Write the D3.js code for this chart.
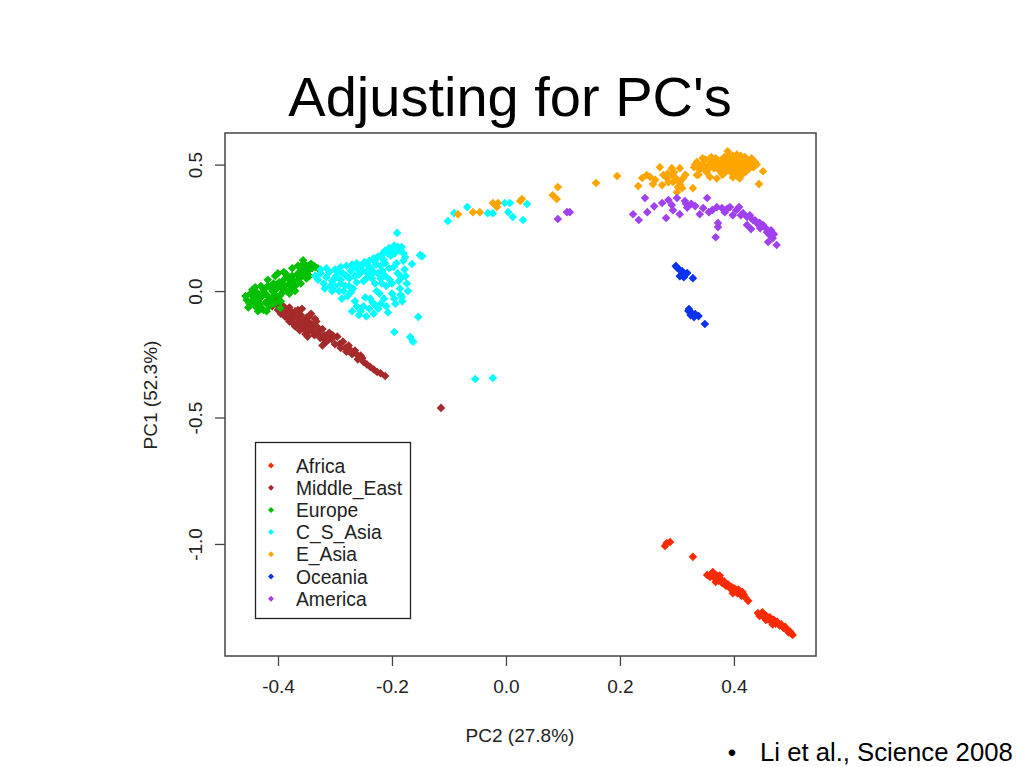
<!DOCTYPE html>
<html lang="en">
<head>
    <meta charset="UTF-8">
    <title>Adjusting for PC's</title>
    <script src="https://d3js.org/d3.v7.min.js"></script>
    <style>
        body { margin: 0; background: #fff; }
        svg { display: block; font-family: "Liberation Sans", Arial, sans-serif; }
        .tick text { font-size: 19px; fill: #222; }
        .tick line { stroke: #444; stroke-width: 1.3px; }
    </style>
</head>
<body>
<svg id="chart" width="1023" height="767"></svg>
<script>
    // populations, in legend order
    const populations = ["Africa", "Middle_East", "Europe", "C_S_Asia", "E_Asia", "Oceania", "America"];
    const popColors = ["#ff2a00", "#a52a2a", "#00c000", "#00ffff", "#ffa500", "#0a33ee", "#a040f0"];

    const xTicks = [-0.4, -0.2, 0.0, 0.2, 0.4];
    const yTicks = [-1.0, -0.5, 0.0, 0.5];

    // [PC2, PC1]
    const africa = [
        [0.279,-1.008],[0.282,-0.996],[0.288,-0.992],[0.328,-1.051],
        [0.353,-1.123],[0.358,-1.130],[0.363,-1.111],[0.366,-1.135],[0.370,-1.125],[0.373,-1.145],
        [0.377,-1.140],[0.380,-1.155],[0.383,-1.148],[0.386,-1.165],[0.390,-1.160],[0.393,-1.175],
        [0.396,-1.170],[0.400,-1.185],[0.403,-1.180],[0.406,-1.195],[0.410,-1.192],[0.413,-1.205],
        [0.417,-1.200],[0.420,-1.212],[0.425,-1.225],[0.375,-1.125],[0.368,-1.150],[0.398,-1.195],
        [0.408,-1.180],[0.360,-1.120],[0.372,-1.135],[0.385,-1.160],[0.400,-1.175],[0.415,-1.190],
        [0.378,-1.150],[0.392,-1.168],
        [0.442,-1.273],[0.447,-1.280],[0.450,-1.270],[0.453,-1.290],[0.457,-1.285],[0.460,-1.298],
        [0.463,-1.290],[0.466,-1.305],[0.470,-1.300],[0.473,-1.315],[0.476,-1.308],[0.480,-1.322],
        [0.483,-1.318],[0.487,-1.332],[0.490,-1.328],[0.494,-1.342],[0.498,-1.345],[0.503,-1.360],
        [0.500,-1.352],[0.456,-1.300],[0.468,-1.318],[0.445,-1.285],[0.458,-1.295],[0.472,-1.310],
        [0.485,-1.325],[0.496,-1.350]
    ];
    const middleEast = [
        [-0.415,-0.045],[-0.410,-0.060],[-0.405,-0.050],[-0.400,-0.075],[-0.398,-0.060],[-0.395,-0.090],
        [-0.392,-0.070],[-0.388,-0.100],[-0.385,-0.080],[-0.382,-0.110],[-0.380,-0.065],[-0.377,-0.095],
        [-0.375,-0.125],[-0.372,-0.105],[-0.370,-0.080],[-0.367,-0.130],[-0.365,-0.110],[-0.362,-0.140],
        [-0.360,-0.095],[-0.357,-0.120],[-0.355,-0.150],[-0.352,-0.135],[-0.350,-0.105],[-0.345,-0.160],
        [-0.342,-0.130],[-0.340,-0.145],[-0.336,-0.175],[-0.333,-0.120],[-0.330,-0.160],[-0.326,-0.185],
        [-0.322,-0.150],[-0.318,-0.175],[-0.315,-0.200],[-0.310,-0.165],[-0.306,-0.190],[-0.300,-0.210],
        [-0.296,-0.180],[-0.290,-0.225],[-0.286,-0.200],[-0.280,-0.240],[-0.276,-0.215],[-0.270,-0.250],
        [-0.265,-0.235],[-0.260,-0.270],[-0.255,-0.255],[-0.250,-0.280],[-0.244,-0.290],[-0.238,-0.300],
        [-0.232,-0.310],[-0.226,-0.320],[-0.220,-0.325],[-0.212,-0.336],[-0.322,-0.215],[-0.114,-0.462],
        [-0.405,-0.035],[-0.395,-0.050],[-0.388,-0.065],[-0.378,-0.080],[-0.366,-0.095],[-0.360,-0.115],
        [-0.354,-0.125],[-0.348,-0.120],[-0.344,-0.145],[-0.338,-0.160],[-0.332,-0.140],[-0.328,-0.170],
        [-0.320,-0.190],[-0.312,-0.185],[-0.304,-0.175],[-0.292,-0.210],[-0.282,-0.225],[-0.272,-0.235],
        [-0.262,-0.250],[-0.252,-0.265],[-0.345,-0.100],[-0.335,-0.110],[-0.380,-0.120],[-0.370,-0.140],
        [-0.362,-0.155],[-0.358,-0.070],[-0.352,-0.170],[-0.365,-0.075],[-0.348,-0.180],[-0.342,-0.090]
    ];
    const europe = [
        [-0.455,-0.035],[-0.450,-0.050],[-0.445,-0.020],[-0.440,-0.060],[-0.438,-0.005],[-0.435,-0.040],
        [-0.430,-0.025],[-0.428,-0.070],[-0.425,0.005],[-0.422,-0.045],[-0.420,-0.015],[-0.418,0.020],
        [-0.415,-0.060],[-0.412,-0.030],[-0.410,0.000],[-0.408,0.030],[-0.405,-0.015],[-0.402,0.010],
        [-0.400,-0.040],[-0.398,0.035],[-0.395,0.015],[-0.392,-0.005],[-0.390,0.045],[-0.388,0.020],
        [-0.385,0.000],[-0.382,0.050],[-0.380,0.030],[-0.377,0.010],[-0.375,0.060],[-0.372,0.040],
        [-0.370,0.020],[-0.367,0.065],[-0.365,0.045],[-0.362,0.075],[-0.360,0.055],[-0.357,0.085],
        [-0.355,0.065],[-0.352,0.095],[-0.350,0.075],[-0.347,0.100],[-0.345,0.085],[-0.342,0.108],
        [-0.340,0.090],[-0.337,0.100],[-0.335,0.095],[-0.330,0.090],[-0.356,0.122],
        [-0.448,-0.010],[-0.443,-0.045],[-0.437,-0.030],[-0.432,-0.055],[-0.427,-0.010],[-0.423,0.010],
        [-0.417,-0.040],[-0.413,0.015],[-0.407,-0.050],[-0.403,0.025],[-0.397,-0.020],[-0.393,0.030],
        [-0.396,-0.067],
        [-0.445,0.005],[-0.452,-0.065],[-0.440,0.015],[-0.435,-0.080],[-0.430,0.020],[-0.425,-0.075],
        [-0.418,0.045],[-0.412,-0.050],[-0.405,0.060],[-0.400,0.070],[-0.395,-0.040],[-0.390,0.075],
        [-0.385,0.065],[-0.380,-0.010],[-0.375,0.090],[-0.370,0.000],[-0.365,0.100],[-0.360,0.030],
        [-0.355,0.110],[-0.350,0.050],[-0.345,0.060],[-0.420,-0.080],[-0.433,-0.015],[-0.446,-0.040],
        [-0.457,-0.020]
    ];
    const csAsia = [
        [-0.300,0.085],[-0.290,0.095],[-0.280,0.100],[-0.270,0.105],[-0.262,0.110],[-0.255,0.100],
        [-0.248,0.115],[-0.240,0.120],[-0.232,0.130],[-0.225,0.135],[-0.218,0.145],[-0.212,0.160],
        [-0.205,0.170],[-0.200,0.165],[-0.196,0.180],[-0.190,0.175],[-0.186,0.160],[-0.180,0.150],
        [-0.195,0.150],[-0.208,0.150],[-0.191,0.230],[-0.202,0.140],[-0.215,0.125],
        [-0.335,0.060],[-0.330,0.045],[-0.325,0.070],[-0.320,0.030],[-0.315,0.055],[-0.310,0.075],
        [-0.305,0.040],[-0.300,0.020],[-0.298,0.060],[-0.293,0.000],[-0.290,0.045],[-0.286,0.070],
        [-0.282,0.020],[-0.278,-0.020],[-0.275,0.050],[-0.272,0.080],[-0.268,0.010],[-0.265,-0.040],
        [-0.262,0.035],[-0.258,0.065],[-0.255,0.090],[-0.250,0.040],[-0.250,-0.060],[-0.247,-0.025],
        [-0.240,0.060],[-0.237,0.090],[-0.234,-0.045],[-0.230,0.030],[-0.227,0.000],[-0.224,-0.070],
        [-0.220,0.050],[-0.217,0.080],[-0.214,-0.030],[-0.210,0.020],[-0.207,-0.085],[-0.204,0.045],
        [-0.200,-0.010],[-0.197,0.095],[-0.194,-0.050],[-0.190,0.070],[-0.186,0.010],[-0.182,-0.040],
        [-0.178,0.085],[-0.174,0.030],[-0.270,-0.080],[-0.258,-0.095],[-0.245,-0.100],[-0.232,-0.090],
        [-0.288,-0.030],[-0.305,0.000],[-0.318,0.010],[-0.240,-0.070],[-0.272,-0.005],[-0.220,-0.050],
        [-0.212,0.110],[-0.228,0.105],[-0.245,0.075],
        [-0.325,0.085],[-0.315,0.090],[-0.308,0.020],[-0.295,0.075],[-0.285,0.000],[-0.280,0.060],
        [-0.275,0.020],[-0.268,0.090],[-0.265,0.060],[-0.262,-0.060],[-0.255,-0.080],[-0.242,0.100],
        [-0.238,-0.030],[-0.235,0.050],[-0.228,-0.060],[-0.225,0.070],[-0.222,-0.010],[-0.218,0.030],
        [-0.212,0.060],[-0.210,-0.060],[-0.205,0.090],[-0.200,0.030],[-0.196,-0.030],[-0.192,0.110],
        [-0.188,0.040],[-0.185,-0.015],[-0.180,0.120],[-0.176,0.060],[-0.172,0.000],[-0.290,0.030],
        [-0.300,0.050],[-0.230,0.115],[-0.220,0.100],[-0.252,0.080],[-0.260,0.085],[-0.245,0.050],
        [-0.232,0.075],
        [-0.183,0.174],[-0.177,0.134],[-0.165,0.107],[-0.147,0.138],[-0.151,0.142],[-0.183,0.055],
        [-0.183,-0.024],[-0.154,-0.102],[-0.196,-0.162],[-0.168,-0.182],[-0.163,-0.200],
        [-0.054,-0.348],[-0.023,-0.344],
        [-0.102,0.277],[-0.091,0.308],[-0.068,0.332],[-0.032,0.308],[-0.023,0.308],[0.007,0.348],
        [0.004,0.312],[0.012,0.293],[0.030,0.281],[0.037,0.344],[-0.002,0.348]
    ];
    const eAsia = [
        [-0.084,0.304],[-0.058,0.312],[-0.046,0.312],[-0.023,0.348],[-0.014,0.348],[-0.016,0.332],
        [0.025,0.356],[0.028,0.364],[0.091,0.411],[0.082,0.379],[0.089,0.364],[0.158,0.427],
        [0.195,0.455],
        [0.232,0.415],[0.239,0.447],[0.247,0.459],[0.258,0.423],[0.270,0.490],[0.274,0.419],
        [0.284,0.466],[0.291,0.486],[0.296,0.451],[0.305,0.486],[0.305,0.431],[0.309,0.407],
        [0.302,0.411],[0.311,0.447],[0.282,0.447],[0.253,0.451],[0.328,0.407],[0.335,0.459],
        [0.358,0.451],[0.276,0.459],[0.293,0.431],[0.300,0.391],
        [0.285,0.430],[0.295,0.470],[0.300,0.440],[0.288,0.456],[0.262,0.440],[0.306,0.420],
        [0.315,0.460],
        [0.330,0.490],[0.335,0.510],[0.340,0.480],[0.345,0.500],[0.350,0.520],[0.355,0.495],
        [0.360,0.510],[0.365,0.485],[0.368,0.525],[0.372,0.500],[0.376,0.515],[0.380,0.490],
        [0.383,0.530],[0.386,0.505],[0.389,0.553],[0.392,0.520],[0.395,0.495],[0.398,0.535],
        [0.400,0.475],[0.402,0.510],[0.405,0.540],[0.408,0.490],[0.410,0.520],[0.413,0.465],
        [0.416,0.505],[0.419,0.530],[0.422,0.485],[0.425,0.515],[0.428,0.500],[0.431,0.525],
        [0.434,0.490],[0.437,0.510],[0.440,0.500],[0.403,0.460],[0.395,0.470],[0.385,0.470],
        [0.375,0.475],[0.420,0.470],[0.410,0.445],[0.360,0.530],[0.345,0.525],[0.338,0.460],
        [0.451,0.474],[0.444,0.423],[0.370,0.445],[0.352,0.470],[0.398,0.450],
        [0.332,0.500],[0.342,0.495],[0.348,0.485],[0.358,0.490],[0.362,0.500],[0.370,0.515],
        [0.378,0.505],[0.382,0.520],[0.388,0.490],[0.392,0.540],[0.396,0.510],[0.400,0.525],
        [0.404,0.495],[0.408,0.505],[0.412,0.535],[0.415,0.480],[0.418,0.515],[0.424,0.500],
        [0.427,0.485],[0.430,0.510],[0.433,0.505],[0.436,0.495],[0.412,0.455],[0.390,0.480],
        [0.380,0.460],[0.405,0.480],[0.420,0.495],[0.366,0.505]
    ];
    const oceania = [
        [0.298,0.099],[0.303,0.087],[0.309,0.079],[0.305,0.059],[0.314,0.067],[0.312,0.055],
        [0.328,0.051],[0.318,0.071],[0.300,0.093],
        [0.321,-0.071],[0.326,-0.087],[0.332,-0.091],[0.338,-0.099],[0.349,-0.130],[0.324,-0.095],
        [0.330,-0.103],[0.320,-0.079]
    ];
    const america = [
        [0.091,0.285],[0.107,0.312],[0.112,0.312],
        [0.223,0.304],[0.233,0.281],[0.244,0.368],[0.248,0.312],[0.274,0.348],[0.281,0.289],
        [0.291,0.340],[0.293,0.320],[0.300,0.368],[0.305,0.304],[0.314,0.356],[0.316,0.345],
        [0.332,0.336],[0.340,0.304],[0.346,0.328],[0.353,0.368],[0.356,0.312],[0.370,0.332],
        [0.372,0.269],[0.372,0.253],[0.368,0.213],[0.379,0.328],[0.384,0.312],[0.393,0.332],
        [0.398,0.300],[0.409,0.332],[0.416,0.308],[0.423,0.293],[0.428,0.300],[0.433,0.281],
        [0.423,0.261],[0.440,0.269],[0.446,0.249],[0.451,0.261],[0.458,0.233],[0.463,0.221],
        [0.468,0.209],[0.475,0.182],[0.460,0.194],[0.430,0.245],
        [0.318,0.330],[0.325,0.345],[0.362,0.320],[0.388,0.325],[0.404,0.320],[0.412,0.300],
        [0.437,0.280],[0.445,0.270],[0.455,0.250],[0.465,0.240],[0.470,0.225],[0.260,0.335],
        [0.285,0.360]
    ];
    const popPoints = [africa, middleEast, europe, csAsia, eAsia, oceania, america];

    const svg = d3.select("#chart");
    svg.append("rect").attr("width", 1023).attr("height", 767).attr("fill", "#fff");

    // plot region
    const x = d3.scaleLinear().domain([-0.493, 0.544]).range([225, 816]);
    const y = d3.scaleLinear().domain([-1.443, 0.625]).range([656, 133]);

    // title
    svg.append("text")
        .attr("x", 510).attr("y", 116)
        .attr("text-anchor", "middle")
        .style("font-size", "56px")
        .attr("fill", "#000")
        .text("Adjusting for PC's");

    const diamond = r => `M0,${-r}L${r},0L0,${r}L${-r},0Z`;

    // points
    popPoints.forEach((pts, i) => {
        svg.append("g")
            .selectAll("path")
            .data(pts)
            .join("path")
            .attr("d", diamond(4.3))
            .attr("transform", d => `translate(${x(d[0])},${y(d[1])})`)
            .attr("fill", popColors[i]);
    });

    // axes
    const xAxis = svg.append("g")
        .attr("transform", "translate(0,656)")
        .call(d3.axisBottom(x).tickValues(xTicks).tickFormat(d => d.toFixed(1)).tickSize(10).tickPadding(14));
    xAxis.select(".domain").remove();

    const yAxis = svg.append("g")
        .attr("transform", "translate(225,0)")
        .call(d3.axisLeft(y).tickValues(yTicks).tickFormat(d => d.toFixed(1)).tickSize(10));
    yAxis.select(".domain").remove();
    yAxis.selectAll(".tick text")
        .attr("transform", "rotate(-90)")
        .attr("x", 0).attr("y", -23).attr("dy", 0)
        .attr("text-anchor", "middle");

    // box
    svg.append("rect")
        .attr("x", 225).attr("y", 133)
        .attr("width", 591).attr("height", 523)
        .attr("fill", "none")
        .attr("stroke", "#444")
        .attr("stroke-width", 1.5);

    // axis titles
    svg.append("text")
        .attr("x", 520).attr("y", 742)
        .attr("text-anchor", "middle")
        .style("font-size", "19px").attr("fill", "#222")
        .text("PC2 (27.8%)");

    svg.append("text")
        .attr("transform", "translate(157,395) rotate(-90)")
        .attr("text-anchor", "middle")
        .style("font-size", "19px").attr("fill", "#222")
        .text("PC1 (52.3%)");

    // legend
    const legend = svg.append("g");
    legend.append("rect")
        .attr("x", 255.5).attr("y", 442.5)
        .attr("width", 155).attr("height", 176)
        .attr("fill", "#fff")
        .attr("stroke", "#222")
        .attr("stroke-width", 1.3);
    populations.forEach((name, i) => {
        const cy = 465.5 + i * 22.2;
        legend.append("path")
            .attr("d", diamond(3))
            .attr("transform", `translate(271,${cy})`)
            .attr("fill", popColors[i]);
        legend.append("text")
            .attr("x", 296).attr("y", cy + 7)
            .style("font-size", "19.3px").attr("fill", "#222")
            .text(name);
    });

    // citation
    svg.append("text")
        .attr("x", 732).attr("y", 761)
        .attr("text-anchor", "middle")
        .style("font-size", "24px")
        .text("\u2022");
    svg.append("text")
        .attr("x", 760).attr("y", 761)
        .style("font-size", "25.7px")
        .attr("fill", "#000")
        .text("Li et al., Science 2008");
</script>
</body>
</html>
